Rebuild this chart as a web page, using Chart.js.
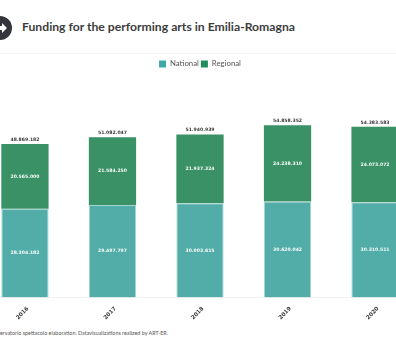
<!DOCTYPE html>
<html>
<head>
<meta charset="utf-8">
<script src="https://cdn.jsdelivr.net/npm/chart.js@4/dist/chart.umd.js"></script>
<style>
html, body { margin: 0; padding: 0; background: #fff; overflow: hidden; width: 396px; height: 360px; }
#title { position: absolute; left: 22px; top: 18.5px; font: 700 12.2px Lato, sans-serif; color: #3c3c3c; white-space: nowrap; }
#rule { position: absolute; left: 0; top: 53px; width: 396px; height: 1px; background: #f5f5f5; }
#icon { position: absolute; left: -12px; top: 16px; }
#note { position: absolute; right: 228px; top: 330px; font: 5.4px Lato, sans-serif; color: #555; white-space: nowrap; }
#wrap { position: absolute; left: -30px; top: 58px; width: 452px; height: 263px; }
</style>
</head>
<body>
<svg id="icon" width="24" height="24" viewBox="0 0 24 24">
  <circle cx="12" cy="12" r="12" fill="#33353a"/>
  <path d="M10 10h4V7l5 5-5 5v-3h-4z" fill="#fff"/>
</svg>
<div id="title">Funding for the performing arts in Emilia-Romagna</div>
<div id="rule"></div>
<div id="wrap"><canvas id="chart"></canvas></div>
<div id="note">Source: Osservatorio spettacolo elaboration. Datavisualizations realized by ART-ER.</div>
<script>
const years = ['2016', '2017', '2018', '2019', '2020']
const national = [28304182, 29497797, 30003615, 30620042, 30310511]
const regional = [20565000, 21584250, 21937324, 24238310, 24073072]
const totals = [48869182, 51082047, 51940939, 54858352, 54383583]
const legendColors = ['#3fa9a8', '#1f8f5f']

const fmt = v => String(v).replace(/\B(?=(\d{3})+$)/g, '.')
const labelFont = 'bold 4.6px "DejaVu Sans"'

// no datalabels plugin here, so the values are written from the bar elements
const barLabels = {
    id: 'barLabels',
    afterDatasetsDraw(chart) {
        const { ctx } = chart
        ctx.save()
        ctx.font = labelFont
        ctx.textAlign = 'center'
        ctx.textBaseline = 'middle'
        chart.data.datasets.forEach((ds, i) => {
            chart.getDatasetMeta(i).data.forEach((bar, j) => {
                ctx.fillStyle = '#f4fbf8'
                ctx.fillText(fmt(ds.data[j]), bar.x, (bar.y + bar.base) / 2)
                if (i === 1) {
                    ctx.fillStyle = '#3c3c3c'
                    ctx.fillText(fmt(totals[j]), bar.x, bar.y - 4.5)
                }
            })
        })
        ctx.restore()
    }
}

new Chart(document.getElementById('chart'), {
    type: 'bar',
    data: {
        labels: years,
        datasets: [
            { label: 'National', data: national, backgroundColor: '#52ada9', borderColor: '#a5d6d2', borderWidth: 1, stack: 's', categoryPercentage: 1, barPercentage: 0.54 },
            { label: 'Regional', data: regional, backgroundColor: '#3a9165', borderWidth: 0, stack: 's', categoryPercentage: 1, barPercentage: 0.54 }
        ]
    },
    options: {
        responsive: true,
        maintainAspectRatio: false,
        animation: false,
        layout: { padding: { left: 11.2, right: 3.2, top: 0, bottom: 0 } },
        scales: {
            y: { stacked: true, display: false, min: 0, max: 70000000 },
            x: {
                stacked: true,
                grid: { display: false },
                border: { color: '#f0f0f0' },
                ticks: { minRotation: 45, maxRotation: 45, padding: 0, labelOffset: 3, color: '#3c3c3c', font: { family: 'DejaVu Sans', size: 5.5, weight: 'bold' } }
            }
        },
        plugins: {
            tooltip: { enabled: false },
            legend: {
                position: 'top',
                labels: {
                    boxWidth: 7,
                    boxHeight: 7,
                    padding: 2,
                    color: '#555',
                    font: { family: 'Lato', size: 7.8 },
                    generateLabels: chart => chart.data.datasets.map((ds, i) => ({
                        text: ds.label,
                        fillStyle: legendColors[i],
                        strokeStyle: legendColors[i],
                        lineWidth: 0,
                        fontColor: '#555',
                        datasetIndex: i
                    }))
                }
            }
        }
    },
    plugins: [barLabels]
})
</script>
</body>
</html>
